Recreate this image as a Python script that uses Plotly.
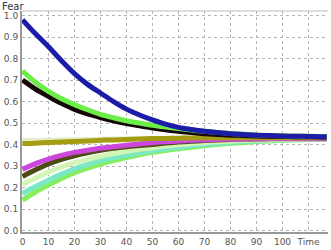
import plotly.graph_objects as go

time = [0, 5, 10, 15, 20, 25, 30, 35, 40, 45, 50, 55, 60, 65, 70, 75, 80, 85, 90, 95, 100, 105, 110, 115, 117]

blue = [0.98, 0.915, 0.855, 0.79, 0.73, 0.68, 0.64, 0.60, 0.565, 0.538, 0.515, 0.495, 0.48, 0.47, 0.462, 0.456, 0.451, 0.447, 0.444, 0.442, 0.44, 0.439, 0.438, 0.437, 0.437]
lime = [0.742, 0.69, 0.647, 0.613, 0.586, 0.562, 0.541, 0.525, 0.511, 0.50, 0.49, 0.482, 0.475, 0.468, 0.462, 0.457, 0.452, 0.448, 0.445, 0.443, 0.441, 0.44, 0.439, 0.438, 0.438]
black = [0.70, 0.658, 0.624, 0.592, 0.564, 0.543, 0.526, 0.511, 0.498, 0.487, 0.477, 0.469, 0.462, 0.456, 0.451, 0.447, 0.444, 0.442, 0.44, 0.439, 0.438, 0.437, 0.437, 0.436, 0.436]
pale_top = [0.421, 0.422, 0.423, 0.424, 0.425, 0.426, 0.427, 0.428, 0.429, 0.43, 0.43, 0.431, 0.431, 0.432, 0.432, 0.432, 0.432, 0.432, 0.432, 0.432, 0.432, 0.432, 0.432, 0.432, 0.432]
olive = [0.405, 0.407, 0.41, 0.412, 0.415, 0.417, 0.42, 0.422, 0.424, 0.426, 0.428, 0.429, 0.43, 0.431, 0.432, 0.432, 0.432, 0.432, 0.432, 0.432, 0.432, 0.432, 0.432, 0.432, 0.432]
magenta = [0.285, 0.312, 0.333, 0.35, 0.364, 0.374, 0.383, 0.39, 0.397, 0.403, 0.409, 0.413, 0.417, 0.42, 0.422, 0.424, 0.425, 0.426, 0.426, 0.427, 0.427, 0.427, 0.427, 0.427, 0.427]
dark_olive = [0.252, 0.283, 0.31, 0.331, 0.348, 0.362, 0.374, 0.383, 0.39, 0.396, 0.401, 0.407, 0.412, 0.416, 0.419, 0.422, 0.424, 0.426, 0.427, 0.428, 0.429, 0.43, 0.43, 0.43, 0.43]
pale_green = [0.215, 0.245, 0.272, 0.296, 0.316, 0.332, 0.346, 0.358, 0.369, 0.378, 0.386, 0.393, 0.399, 0.404, 0.409, 0.413, 0.416, 0.419, 0.421, 0.423, 0.424, 0.425, 0.426, 0.427, 0.427]
aqua = [0.172, 0.205, 0.235, 0.263, 0.288, 0.308, 0.326, 0.339, 0.35, 0.362, 0.372, 0.38, 0.387, 0.394, 0.40, 0.405, 0.41, 0.414, 0.417, 0.42, 0.422, 0.424, 0.425, 0.426, 0.426]
green = [0.142, 0.18, 0.212, 0.243, 0.27, 0.291, 0.31, 0.326, 0.34, 0.353, 0.364, 0.373, 0.381, 0.388, 0.395, 0.401, 0.406, 0.41, 0.414, 0.417, 0.42, 0.422, 0.424, 0.425, 0.425]

x_ticks = [0, 10, 20, 30, 40, 50, 60, 70, 80, 90, 100, 110]
x_labels = ["0", "10", "20", "30", "40", "50", "60", "70", "80", "90", "100", "Time"]
y_ticks = [0.0, 0.1, 0.2, 0.3, 0.4, 0.5, 0.6, 0.7, 0.8, 0.9, 1.0]
y_labels = ["0.0", "0.1", "0.2", "0.3", "0.4", "0.5", "0.6", "0.7", "0.8", "0.9", "1.0"]

series = [
    (green, "#86ee5e", 5),
    (aqua, "#7ae8c4", 5),
    (pale_green, "#d2f4b4", 5),
    (dark_olive, "#4e4a14", 5),
    (magenta, "#cc48dc", 5),
    (pale_top, "#e4ecc8", 4),
    (olive, "#a49c12", 5),
    (black, "#160808", 5),
    (lime, "#6cee48", 5),
]

fig = go.Figure()
for ys, col, w in series:
    fig.add_trace(go.Scatter(x=time, y=ys, mode="lines", line=dict(color=col, width=w, shape="spline"),
                             showlegend=False, hoverinfo="skip"))
fig.add_trace(go.Scatter(x=time, y=blue, mode="lines", line=dict(color="#1c1ca8", width=5, shape="spline"),
                         showlegend=False, hoverinfo="skip"))

fig.update_layout(
    width=331, height=250,
    margin=dict(l=22, r=3, t=11, b=13),
    paper_bgcolor="white", plot_bgcolor="white",
    font=dict(family="DejaVu Sans", size=9, color="#555555"),
    xaxis=dict(range=[-0.2, 117.5], tickvals=x_ticks, ticktext=x_labels,
               showgrid=True, gridcolor="#b4b4b4", griddash="dot", gridwidth=1,
               showline=True, linecolor="#999999", linewidth=2, zeroline=False,
               ticks="", tickfont=dict(size=9, color="#555555")),
    yaxis=dict(range=[-0.006, 1.021], tickvals=y_ticks, ticktext=y_labels,
               showgrid=True, gridcolor="#b4b4b4", griddash="dot", gridwidth=1,
               showline=True, linecolor="#999999", linewidth=2, zeroline=False,
               ticks="", tickfont=dict(size=9, color="#555555")),
    shapes=[dict(type="line", xref="paper", yref="paper", x0=0, x1=1, y0=1, y1=1,
                 line=dict(color="#bbbbbb", width=1))],
    annotations=[dict(text="Fear", xref="paper", yref="paper", x=-0.068, y=1.0, yshift=11,
                      xanchor="left", yanchor="top", showarrow=False, borderpad=0,
                      font=dict(size=10, color="#333333"))],
)

fig.write_html("out.html")
